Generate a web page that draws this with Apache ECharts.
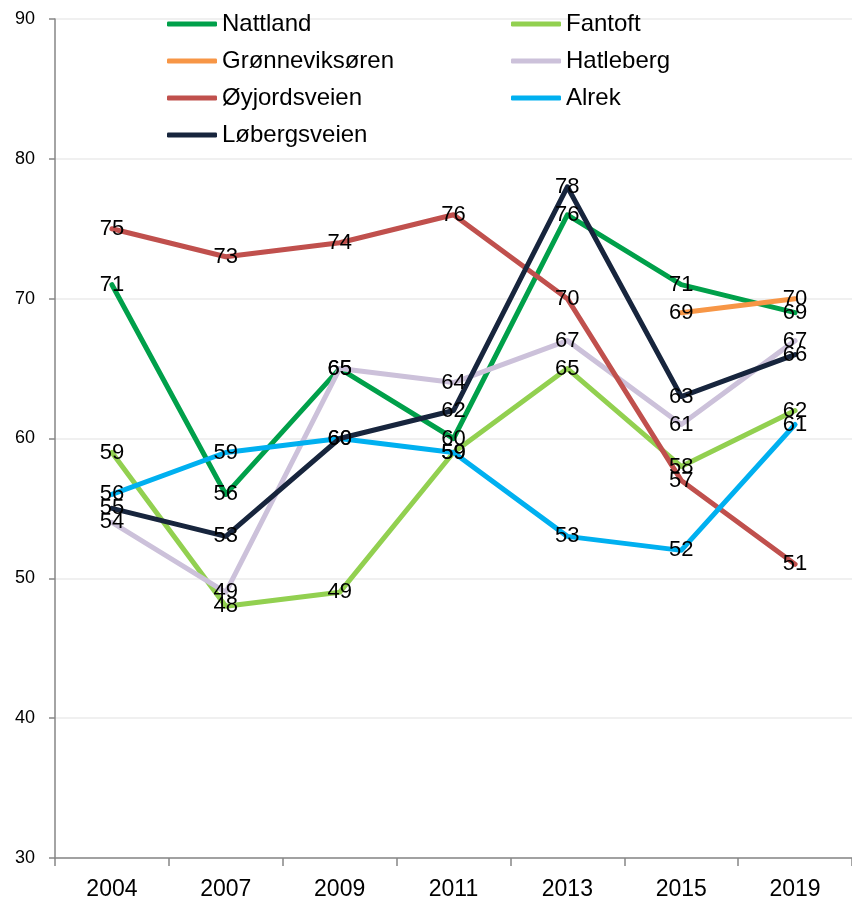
<!DOCTYPE html>
<html>
<head>
<meta charset="utf-8">
<script src="https://cdn.jsdelivr.net/npm/echarts@6/dist/echarts.min.js"></script>
<style>
  html, body { margin: 0; padding: 0; background: #fff; }
  #chart { width: 852px; height: 903px; }
</style>
</head>
<body>
<div id="chart"></div>
<script>
// Survey years on the category axis
const years = ['2004', '2007', '2009', '2011', '2013', '2015', '2019'];

// Scores per school
const nattland = [71, 56, 65, 60, 76, 71, 69];
const fantoft = [59, 48, 49, 59, 65, 58, 62];
const gronneviksoren = [null, null, null, null, null, 69, 70];
const hatleberg = [54, 49, 65, 64, 67, 61, 67];
const oyjordsveien = [75, 73, 74, 76, 70, 57, 51];
const alrek = [56, 59, 60, 59, 53, 52, 61];
const lobergsveien = [55, 53, 60, 62, 78, 63, 66];

const seriesDefs = [
  { name: 'Nattland', data: nattland, color: '#00A04A' },
  { name: 'Fantoft', data: fantoft, color: '#92D050' },
  { name: 'Grønneviksøren', data: gronneviksoren, color: '#F79646' },
  { name: 'Hatleberg', data: hatleberg, color: '#CCC1DA' },
  { name: 'Øyjordsveien', data: oyjordsveien, color: '#C0504D' },
  { name: 'Alrek', data: alrek, color: '#00B0F0' },
  { name: 'Løbergsveien', data: lobergsveien, color: '#17253D' }
];

const font = 'Liberation Sans, Arial, sans-serif';

const chart = echarts.init(document.getElementById('chart'), null, { renderer: 'canvas' });

const legendCommon = {
  orient: 'vertical',
  icon: 'roundRect',
  itemWidth: 50,
  itemHeight: 5,
  itemGap: 13,
  padding: 0,
  textStyle: { fontFamily: font, fontSize: 24, lineHeight: 24, color: '#000' }
};

chart.setOption({
  animation: false,
  backgroundColor: '#fff',
  grid: { left: 55, right: 0, top: 19, bottom: 45, containLabel: false },
  legend: [
    Object.assign({}, legendCommon, {
      left: 167, top: 12,
      data: ['Nattland', 'Grønneviksøren', 'Øyjordsveien', 'Løbergsveien']
    }),
    Object.assign({}, legendCommon, {
      left: 511, top: 12,
      data: ['Fantoft', 'Hatleberg', 'Alrek']
    })
  ],
  xAxis: {
    type: 'category',
    data: years,
    boundaryGap: true,
    axisLine: { lineStyle: { color: '#868686', width: 1.5 } },
    axisTick: { show: true, length: 8, lineStyle: { color: '#868686', width: 1.5 } },
    axisLabel: { fontFamily: font, fontSize: 23, color: '#000', margin: 20 }
  },
  yAxis: {
    type: 'value',
    min: 30,
    max: 90,
    interval: 10,
    axisLine: { show: true, lineStyle: { color: '#868686', width: 1.5 } },
    axisTick: { show: true, length: 6, lineStyle: { color: '#868686', width: 1.5 } },
    axisLabel: { fontFamily: font, fontSize: 18, color: '#000', margin: 20 },
    splitLine: { show: true, lineStyle: { color: '#EBEBEB', width: 1.5 } }
  },
  series: seriesDefs.map(s => ({
    name: s.name,
    type: 'line',
    data: s.data,
    symbol: 'circle',
    symbolSize: 0.1,
    showSymbol: true,
    itemStyle: { color: s.color },
    lineStyle: { color: s.color, width: 5, cap: 'round', join: 'round' },
    color: s.color,
    label: {
      show: true,
      position: 'inside',
      fontFamily: font,
      fontSize: 22,
      color: '#000'
    },
    labelLayout: { hideOverlap: false },
    emphasis: { disabled: true }
  }))
});
</script>
</body>
</html>
